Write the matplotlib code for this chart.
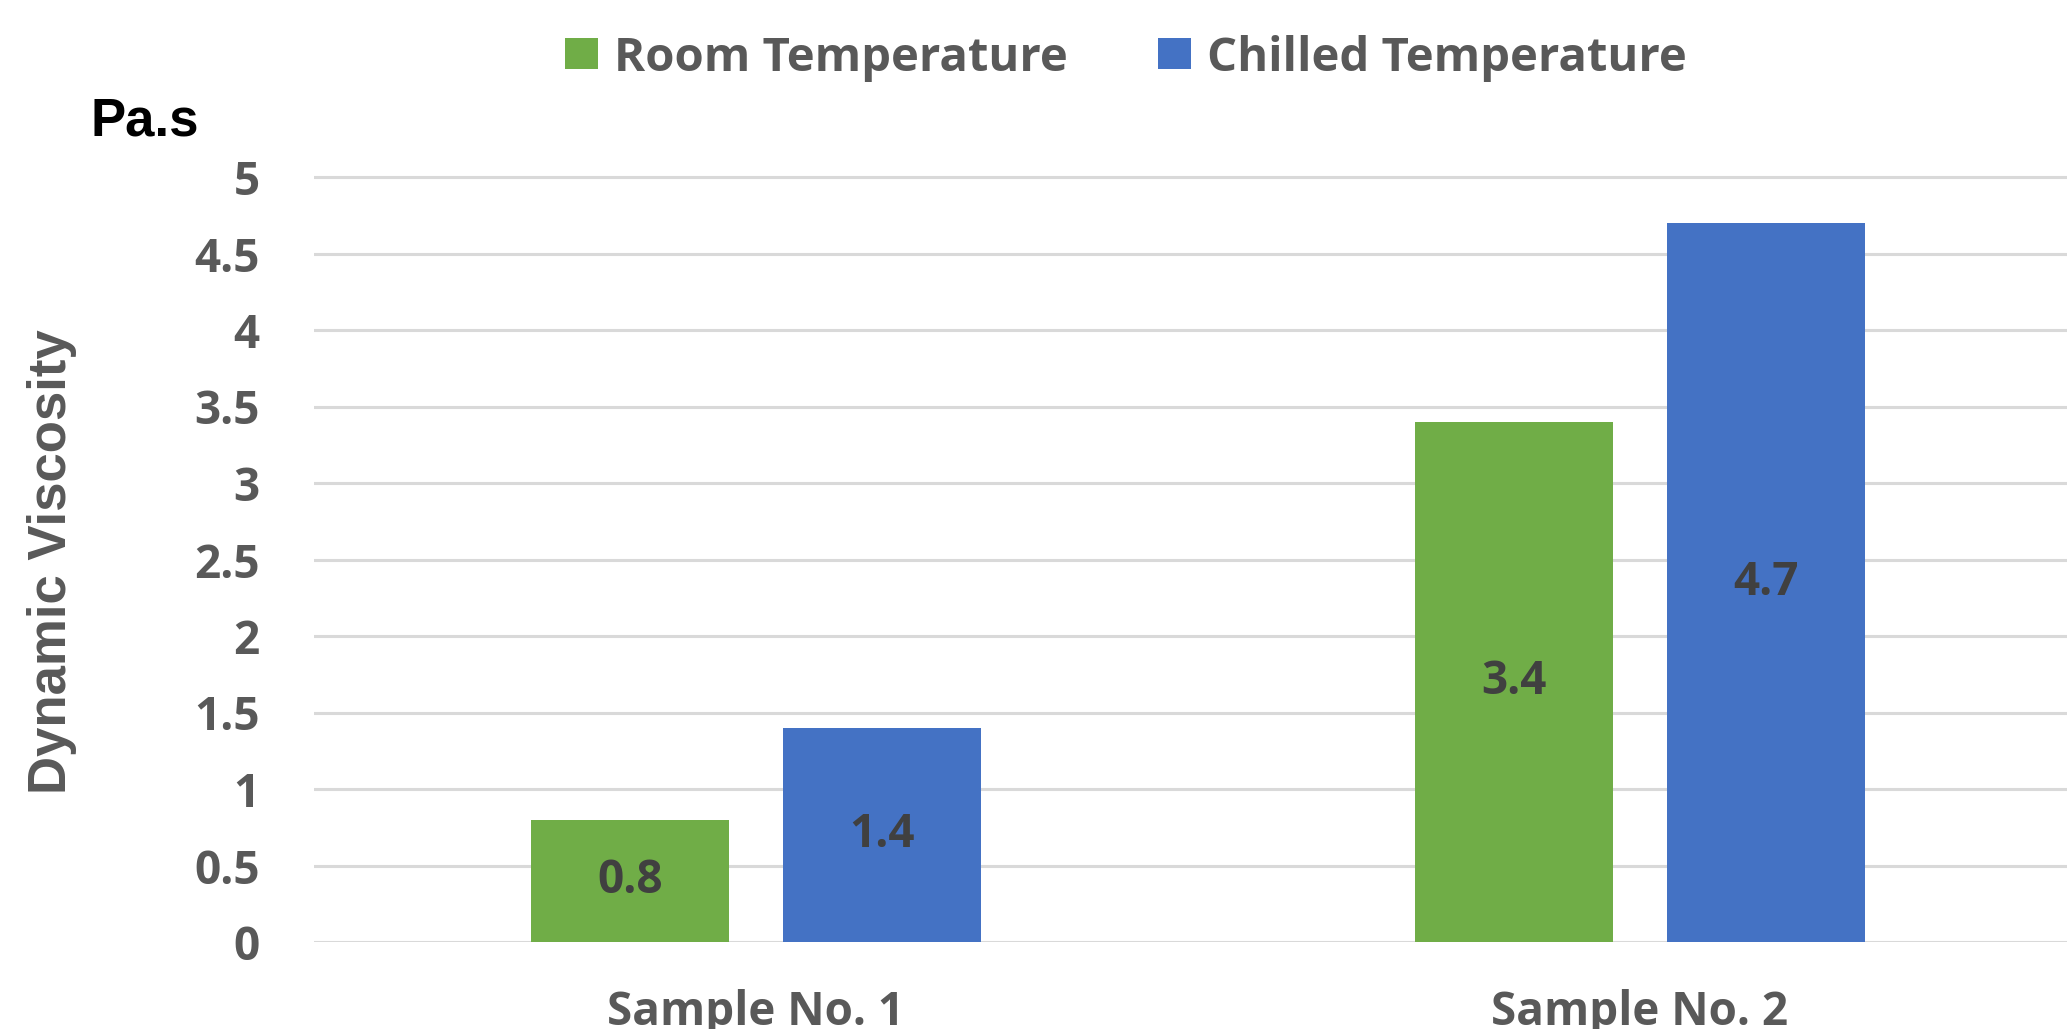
import matplotlib
matplotlib.use("Agg")
import matplotlib.pyplot as plt
import numpy as np

categories = ["Sample No. 1", "Sample No. 2"]
series_names = ["Room Temperature", "Chilled Temperature"]
room_temp = [0.8, 3.4]
chilled_temp = [1.4, 4.7]
yticks = [0, 0.5, 1, 1.5, 2, 2.5, 3, 3.5, 4, 4.5, 5]
ytick_labels = ["0", "0.5", "1", "1.5", "2", "2.5", "3", "3.5", "4", "4.5", "5"]

GREEN = "#70AD47"
BLUE = "#4472C4"
GRID = "#D9D9D9"
TICK = "#595959"
LABEL = "#404040"

W, H = 2067, 1029
fig = plt.figure(figsize=(W / 100, H / 100), dpi=100)
ymax = 5.02
y0_px, y5_px = 942, 177
top_px = y0_px - (y0_px - y5_px) * ymax / 5
ax = fig.add_axes([314 / W, 1 - y0_px / H, (2082 - 314) / W, (y0_px - top_px) / H])

x = np.arange(len(categories))
bw = 0.224
off = 0.1425
b1 = ax.bar(x - off, room_temp, bw, color=GREEN, label=series_names[0], zorder=3)
b2 = ax.bar(x + off, chilled_temp, bw, color=BLUE, label=series_names[1], zorder=3)

font = "Open Sans"
for bars in (b1, b2):
    ax.bar_label(bars, labels=[f"{v:g}" for v in bars.datavalues], label_type="center",
                 fontsize=33, fontweight="bold", color=LABEL, family=font)

ax.set_xlim(-0.5, 1.5)
ax.set_ylim(0, ymax)
ax.set_yticks(yticks)
ax.set_yticklabels(ytick_labels)
ax.set_xticks(x)
ax.set_xticklabels(categories)
for lab in ax.get_yticklabels() + ax.get_xticklabels():
    lab.set_fontfamily(font)
    lab.set_fontweight("bold")
    lab.set_fontsize(33)
    lab.set_color(TICK)
ax.tick_params(axis="y", length=0, pad=39)
ax.tick_params(axis="x", length=0, pad=34)
ax.grid(axis="y", color=GRID, linewidth=2.2, zorder=0)
ax.set_axisbelow(True)
for s in ax.spines.values():
    s.set_visible(False)

fig.text(52 / W, 1 - 562 / H, "Dynamic Viscosity", rotation=90, ha="center", va="center",
         fontsize=38, fontweight="bold", color=TICK, family="Liberation Sans")
fig.text(90 / W, 1 - 122 / H, "Pa.s", ha="left", va="center",
         fontsize=38, fontweight="bold", color="black", family="Liberation Sans")

leg = fig.legend(handles=[b1, b2], labels=series_names, loc="center",
                 bbox_to_anchor=(1126 / W, 1 - 58 / H), ncol=2, frameon=False,
                 prop={"family": font, "weight": "bold", "size": 34},
                 handlelength=0.7, handleheight=0.63, handletextpad=0.35,
                 columnspacing=1.9, borderpad=0)
for t in leg.get_texts():
    t.set_color(TICK)

fig.savefig("out.png", dpi=100)
